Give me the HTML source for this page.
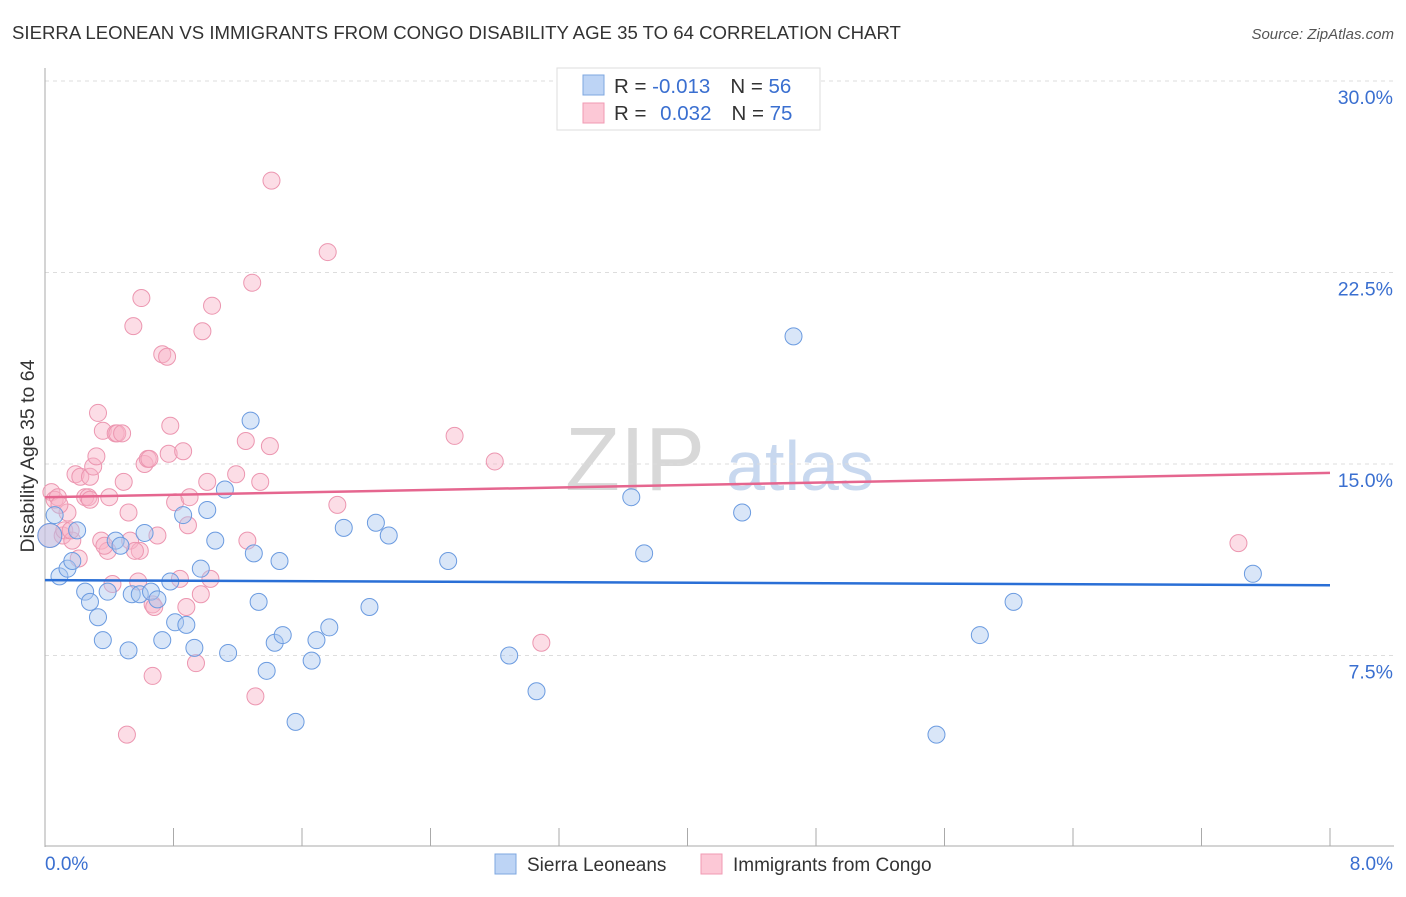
<!DOCTYPE html>
<html><head><meta charset="utf-8"><style>
body{margin:0;background:#fff;font-family:"Liberation Sans",sans-serif;}
svg text{font-family:"Liberation Sans",sans-serif;}
</style></head><body>
<svg id="chart" width="1406" height="892">
<text x="12" y="39" font-size="18.6" fill="#333">SIERRA LEONEAN VS IMMIGRANTS FROM CONGO DISABILITY AGE 35 TO 64 CORRELATION CHART</text>
<text x="1394" y="39" font-size="15" fill="#555" font-style="italic" text-anchor="end">Source: ZipAtlas.com</text>
<text x="34" y="456" font-size="19.5" fill="#333" text-anchor="middle" transform="rotate(-90 34 456)">Disability Age 35 to 64</text>
<text x="635" y="490" font-size="90" fill="#d8d8d8" font-family="Liberation Serif" text-anchor="middle">ZIP</text>
<text x="800" y="490" font-size="70" fill="#c8d8ef" text-anchor="middle">atlas</text>
<g id="grid"></g><g id="pts"></g><g id="lines"></g>
<g>
<rect x="557" y="68" width="263" height="62" fill="#fff" stroke="#ddd"/>
<rect x="583" y="75" width="21" height="20" fill="#bdd4f5" stroke="#7ea7e0"/>
<rect x="583" y="103" width="21" height="20" fill="#fcc8d6" stroke="#f09ab3"/>
<text x="614" y="93" font-size="20.5" fill="#333">R = <tspan fill="#3a6fd0">-0.013</tspan><tspan dx="20">N = </tspan><tspan fill="#3a6fd0">56</tspan></text>
<text x="614" y="120" font-size="20.5" fill="#333">R = <tspan dx="8" fill="#3a6fd0">0.032</tspan><tspan dx="20">N = </tspan><tspan fill="#3a6fd0">75</tspan></text>
</g>
<g>
<rect x="495" y="854" width="21" height="20" fill="#bdd4f5" stroke="#7ea7e0"/>
<text x="527" y="871" font-size="19" fill="#333">Sierra Leoneans</text>
<rect x="701" y="854" width="21" height="20" fill="#fcc8d6" stroke="#f09ab3"/>
<text x="733" y="871" font-size="19" fill="#333">Immigrants from Congo</text>
</g>
</svg>
<script>
const xTicks=[0,0.8,1.6,2.4,3.2,4.0,4.8,5.6,6.4,7.2,8.0];
const yTicks=[7.5,15,22.5,30];
const blueX=[0.03,0.06,0.09,0.14,0.17,0.2,0.25,0.28,0.33,0.36,0.39,0.44,0.47,0.52,0.54,0.59,0.62,0.66,0.7,0.73,0.78,0.81,0.86,0.88,0.93,0.97,1.01,1.06,1.12,1.14,1.28,1.3,1.33,1.38,1.43,1.46,1.48,1.56,1.66,1.69,1.77,1.86,2.02,2.06,2.14,2.51,2.89,3.06,3.65,3.73,4.34,4.66,5.55,5.82,6.03,7.52];
const blueY=[12.2,13.0,10.6,10.9,11.2,12.4,10.0,9.6,9.0,8.1,10.0,12.0,11.8,7.7,9.9,9.9,12.3,10.0,9.7,8.1,10.4,8.8,13.0,8.7,7.8,10.9,13.2,12.0,14.0,7.6,16.7,11.5,9.6,6.9,8.0,11.2,8.3,4.9,7.3,8.1,8.6,12.5,9.4,12.7,12.2,11.2,7.5,6.1,13.7,11.5,13.1,20.0,4.4,8.3,9.6,10.7];
const pinkX=[0.03,0.04,0.06,0.08,0.11,0.12,0.14,0.17,0.19,0.21,0.22,0.25,0.27,0.28,0.30,0.32,0.33,0.35,0.36,0.39,0.40,0.42,0.44,0.45,0.48,0.49,0.51,0.52,0.53,0.55,0.58,0.59,0.60,0.62,0.64,0.67,0.67,0.68,0.70,0.73,0.76,0.77,0.78,0.81,0.84,0.86,0.88,0.89,0.90,0.94,0.97,0.98,1.01,1.03,1.04,1.19,1.25,1.26,1.29,1.31,1.34,1.40,1.41,1.76,1.82,2.55,2.80,3.09,7.43,0.09,0.16,0.56,0.37,0.65,0.28];
const pinkY=[12.2,13.9,13.6,13.7,12.2,12.4,13.1,12.0,14.6,11.3,14.5,13.7,13.7,14.5,14.9,15.3,17.0,12.0,16.3,11.6,13.7,10.3,16.2,16.2,16.2,14.3,4.4,13.1,12.0,20.4,10.4,11.6,21.5,15.0,15.2,9.5,6.7,9.4,12.2,19.3,19.2,15.4,16.5,13.5,10.5,15.5,9.4,12.6,13.7,7.2,9.9,20.2,14.3,10.5,21.2,14.6,15.9,12.0,22.1,5.9,14.3,15.7,26.1,23.3,13.4,16.1,15.1,8.0,11.9,13.4,12.4,11.6,11.8,15.2,13.6];
const blueFit=[10.45,10.25];
const pinkFit=[13.7,14.65];
const X0=45,X1=1330,Y0=847,YS=191.5/7.5;
const sx=v=>X0+(v/8)*(X1-X0);
const sy=v=>Y0-v*YS;
const NS="http://www.w3.org/2000/svg";
function mk(t,a,p){const e=document.createElementNS(NS,t);for(const k in a)e.setAttribute(k,a[k]);p.appendChild(e);return e;}
const grid=document.getElementById('grid');
for(const t of yTicks){
 const l=mk('line',{x1:X0,x2:1394,y1:sy(t),y2:sy(t),stroke:'#ddd','stroke-dasharray':'4,4'},grid);
 
 
 const tx=mk('text',{x:1393,y:sy(t)+23,'font-size':19.5,fill:'#3a6fd0','text-anchor':'end'},grid);
 tx.textContent=t.toFixed(1)+'%';
 
 
}
const ax=mk('line',{x1:X0,x2:X0,y1:68,y2:847,stroke:'#aaa'},grid);


const bx=mk('line',{x1:X0,x2:1394,y1:846,y2:846,stroke:'#aaa'},grid);


for(const t of xTicks){
 const l=mk('line',{x1:sx(t),x2:sx(t),y1:828,y2:846,stroke:'#aaa'},grid);
 
 
}
const xl0=mk('text',{x:45,y:870,'font-size':19,fill:'#3a6fd0'},grid);xl0.textContent='0.0%';


const xl1=mk('text',{x:1393,y:870,'font-size':19,fill:'#3a6fd0','text-anchor':'end'},grid);xl1.textContent='8.0%';


const pts=document.getElementById('pts');
pinkX.forEach((x,i)=>{
 const c=mk('circle',{cx:sx(x),cy:sy(pinkY[i]),r:i==0?12:8.5,fill:'rgba(248,180,200,0.45)',stroke:'#ec96b0','stroke-width':1},pts);
 
 
});
blueX.forEach((x,i)=>{
 const c=mk('circle',{cx:sx(x),cy:sy(blueY[i]),r:i==0?12:8.5,fill:'rgba(170,200,240,0.45)',stroke:'#6b9be0','stroke-width':1},pts);
 
 
});
const lines=document.getElementById('lines');
const bl=mk('line',{x1:sx(0),x2:sx(8),y1:sy(blueFit[0]),y2:sy(blueFit[1]),stroke:'#2a6fd6','stroke-width':2.5},lines);


const pl=mk('line',{x1:sx(0),x2:sx(8),y1:sy(pinkFit[0]),y2:sy(pinkFit[1]),stroke:'#e5668f','stroke-width':2.5},lines);


</script>
</body></html>
